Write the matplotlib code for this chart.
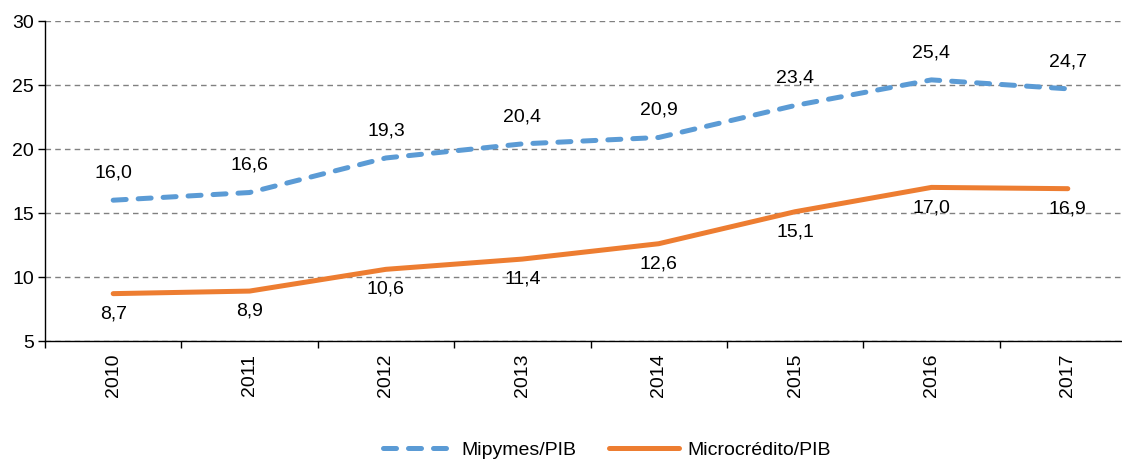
import matplotlib
matplotlib.use("Agg")
import matplotlib.pyplot as plt

plt.rcParams["font.family"] = ["Liberation Sans", "DejaVu Sans"]

years = ["2010", "2011", "2012", "2013", "2014", "2015", "2016", "2017"]
mipymes = [16.0, 16.6, 19.3, 20.4, 20.9, 23.4, 25.4, 24.7]
microcredito = [8.7, 8.9, 10.6, 11.4, 12.6, 15.1, 17.0, 16.9]

blue = "#5B9BD5"
orange = "#ED7D31"
fs = 14

fig = plt.figure(figsize=(11.22, 4.62), dpi=100)
ax = fig.add_axes([45 / 1122, 1 - 341 / 462, 1091 / 1122, 320 / 462])

x = list(range(len(years)))
ax.plot(x, mipymes, color=blue, lw=3.6, dashes=(2.6, 2.4),
        dash_capstyle="round", label="Mipymes/PIB")
ax.plot(x, microcredito, color=orange, lw=3.6, solid_capstyle="round",
        label="Microcrédito/PIB")

def fmt(v):
    return "{:.1f}".format(v).replace(".", ",")

for i, v in enumerate(mipymes):
    ax.annotate(fmt(v), (i, v), xytext=(0, 19.5), textcoords="offset points",
                ha="center", va="center", fontsize=fs)
for i, v in enumerate(microcredito):
    ax.annotate(fmt(v), (i, v), xytext=(0, -14.5), textcoords="offset points",
                ha="center", va="center", fontsize=fs)

ax.set_xlim(-0.5, len(years) - 0.5)
ax.set_ylim(5, 30)
ax.set_yticks(range(5, 31, 5))
ax.yaxis.grid(True, color="#808080", ls=(0, (4, 3)), lw=1)
ax.set_axisbelow(True)

ax.set_xticks(x)
ax.set_xticklabels(years, rotation=90, fontsize=fs)
ax.set_xticks([i + 0.5 for i in range(-1, len(years))], minor=True)
ax.tick_params(axis="x", which="major", length=0, pad=9)
ax.tick_params(axis="x", which="minor", length=5, width=1, direction="out")
ax.tick_params(axis="y", length=5, width=1, labelsize=fs, pad=3)

for s in ["top", "right"]:
    ax.spines[s].set_visible(False)
ax.spines["left"].set_linewidth(1)
ax.spines["bottom"].set_linewidth(1)

fig.legend(loc="center", bbox_to_anchor=(0.541, 0.026), ncol=2, frameon=False,
           fontsize=fs, handlelength=3.6, handletextpad=0.4, columnspacing=1.7)

fig.savefig("out.png", dpi=100)
